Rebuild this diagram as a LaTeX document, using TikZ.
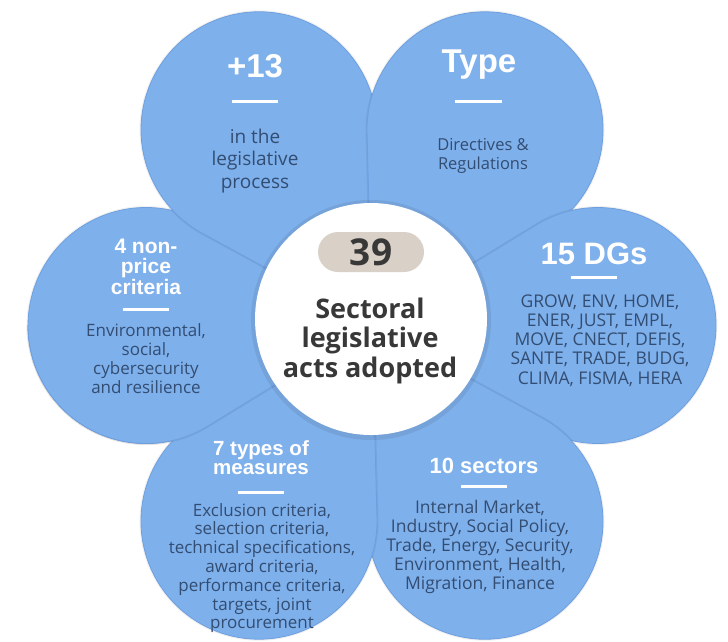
\documentclass[tikz,border=0pt]{standalone}
\usepackage{fontspec}
\setmainfont{Open Sans}
\newfontfamily\headfont{Liberation Sans}
\definecolor{petal}{HTML}{7EB0EC}
\definecolor{petaledge}{HTML}{6E9FDF}
\definecolor{bodyblue}{HTML}{334D72}
\definecolor{pillbg}{HTML}{D9D0C7}
\definecolor{darktext}{HTML}{383838}
\newcommand\plines[1]{\begin{tabular}[t]{@{}c@{}}#1\end{tabular}}
\tikzset{
  petalshape/.style={fill=petal, draw=petaledge, line width=0.8pt, line join=round,
    preaction={draw=black, opacity=0.06, line width=3pt}},
  pics/petal/.style={code={
    \path[petalshape] (0,0) -- (#1-31.47:192.75)
      arc[start angle=#1-121.47, end angle=#1+121.47, radius=118] -- cycle;}},
  head/.style={text=white, inner sep=0pt, anchor=base},
  body/.style={text=bodyblue, inner sep=0pt, anchor=base},
  bar/.style={white, line width=3pt},
}
\begin{document}
\begin{tikzpicture}[x=1pt,y=-1pt]
\useasboundingbox[fill=white] (0,0) rectangle (728,641);
\coordinate (P) at (372,325.5);
% petals (pinwheel overlap)
\pic at (P) {petal=180};
\pic at (P) {petal=240};
\pic at (P) {petal=300};
\pic at (P) {petal=0};
\pic at (P) {petal=60};
\pic at (P) {petal=120};
\begin{scope}
  \clip (0,325.5) rectangle (728,641);
  \pic at (P) {petal=180};
\end{scope}
% centre
\fill[black, opacity=0.08] (371,320) circle[radius=120];
\node[circle, fill=white, minimum size=232pt, inner sep=0pt] (centre) at (371,319) {};
\node[rounded corners=20pt, fill=pillbg, minimum width=106pt, minimum height=40pt, inner sep=0pt,
      text=darktext, font=\bfseries\fontsize{37}{37}\selectfont] (num) at (371,252) {39};
\node[anchor=base, inner sep=0pt, text=darktext, font=\bfseries\fontsize{27}{29.5}\selectfont]
  (title) at (370,318) {\plines{Sectoral\\legislative\\acts adopted}};
% +13
\node[head, font=\headfont\bfseries\fontsize{33}{33}\selectfont] (h1) at (255,77) {+13};
\draw[bar] (232,101) -- (278,101);
\node[body, font=\fontsize{19}{22.5}\selectfont] (b1) at (255,143) {\plines{in the\\legislative\\process}};
% Type
\node[head, font=\headfont\bfseries\fontsize{33}{33}\selectfont] (h2) at (479,72) {Type};
\draw[bar] (455,101) -- (502,101);
\node[body, font=\fontsize{16.5}{19}\selectfont] (b2) at (483,150) {\plines{Directives \&\\Regulations}};
% 15 DGs
\node[head, font=\headfont\bfseries\fontsize{31}{31}\selectfont] (h3) at (594,264) {15 DGs};
\draw[bar] (571,277) -- (617,277);
\node[body, font=\fontsize{17.5}{19.3}\selectfont] (b3) at (600,307)
  {\plines{GROW, ENV, HOME,\\ENER, JUST, EMPL,\\MOVE, CNECT, DEFIS,\\SANTE, TRADE, BUDG,\\CLIMA, FISMA, HERA}};
% 10 sectors
\node[head, font=\headfont\bfseries\fontsize{22}{22}\selectfont] (h4) at (484,473) {10 sectors};
\draw[bar] (461,486) -- (507,486);
\node[body, font=\fontsize{17.5}{19}\selectfont] (b4) at (480,513)
  {\plines{Internal Market,\\Industry, Social Policy,\\Trade, Energy, Security,\\Environment, Health,\\Migration, Finance}};
% 7 types
\node[head, font=\headfont\bfseries\fontsize{20.5}{19}\selectfont] (h5) at (261,455) {\plines{7 types of\\measures}};
\draw[bar] (238,492) -- (284,492);
\node[body, font=\fontsize{17}{18.8}\selectfont] (b5) at (262,516)
  {\plines{Exclusion criteria,\\selection criteria,\\technical specifications,\\award criteria,\\performance criteria,\\targets, joint\\procurement}};
% 4 non-price
\node[head, font=\headfont\bfseries\fontsize{21}{18}\selectfont] (h6) at (146,253) {\plines{4 non-\\price\\criteria}};
\draw[bar] (123,309) -- (169,309);
\node[body, font=\fontsize{17}{19}\selectfont] (b6) at (146,336)
  {\plines{Environmental,\\social,\\cybersecurity\\and resilience}};
\end{tikzpicture}
\end{document}
